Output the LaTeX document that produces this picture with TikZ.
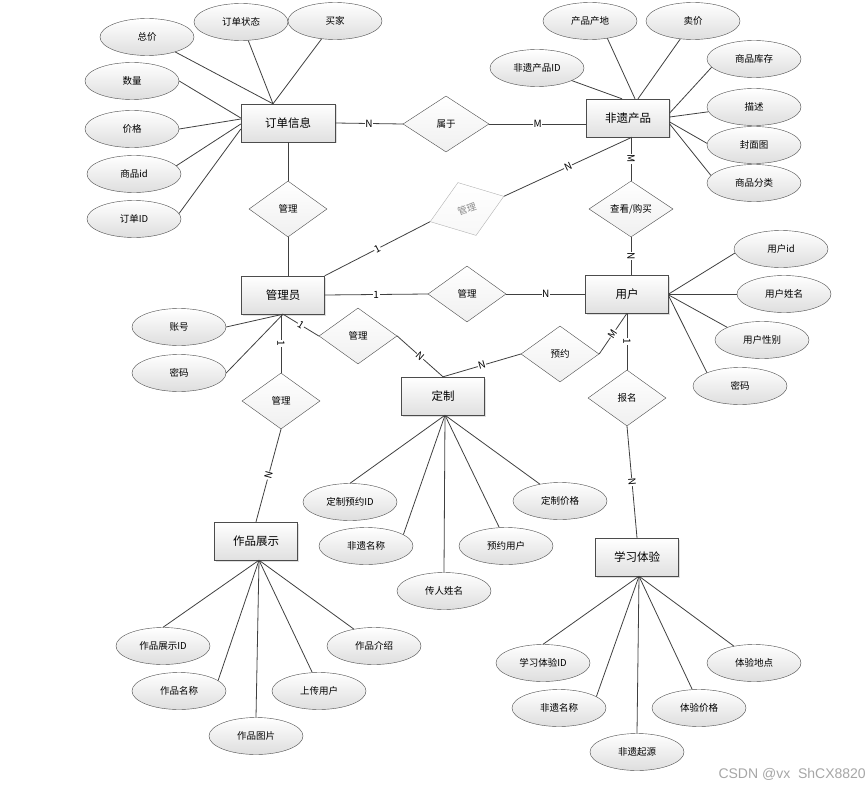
\documentclass[tikz,border=0pt]{standalone}
\usepackage{fontspec}
\setmainfont{Noto Sans CJK SC}
\newfontfamily\wmfont{Liberation Sans}
\usetikzlibrary{shapes.geometric,shadows}

\begin{document}
\begin{tikzpicture}[x=1pt,y=-1pt]
        \tikzstyle{entity}=[rectangle,draw=black!70,top color=white,bottom color=black!12,minimum width=83pt,minimum height=38pt,font=\fontsize{11.5}{13}\selectfont,drop shadow={opacity=0.25,shadow xshift=1.5pt,shadow yshift=-1.5pt}]
        \tikzstyle{attr}=[ellipse,draw=black!70,top color=white,bottom color=black!13,minimum width=94pt,minimum height=37pt,inner sep=0pt,font=\fontsize{9.5}{11}\selectfont]
        \tikzstyle{rel}=[diamond,draw=black!70,top color=white,bottom color=black!6,minimum width=78pt,minimum height=56pt,inner sep=0pt,font=\fontsize{9.5}{11}\selectfont]
        \tikzstyle{edge}=[draw=black!75,line width=0.8pt]
        \tikzstyle{card}=[fill=white,inner sep=0.6pt,font=\fontsize{10}{12}\selectfont]

        \useasboundingbox (0,0) rectangle (867,789);

        % entities
        \node [entity,minimum width=94pt] (ddxx) at (288,123) {订单信息};
        \node [entity] (fycp) at (628,118) {非遗产品};
        \node [entity] (gly) at (283,295) {管理员};
        \node [entity] (yh) at (627,294) {用户};
        \node [entity] (dz) at (443,396) {定制};
        \node [entity] (zpzs) at (256,541) {作品展示};
        \node [entity] (xxty) at (637,557) {学习体验};

        % relations
        \node [rel,minimum width=86pt] (sy) at (446,124) {属于};
        \node [rel] (gl1) at (288,209) {管理};
        \node [rel,draw=black!30,text=black!45,bottom color=black!3,rotate=19] (gl2) at (467,209) {管理};
        \node [rel,minimum width=84pt] (ckgm) at (631,209) {查看/购买};
        \node [rel] (gl3) at (467,294) {管理};
        \node [rel] (gl4) at (358,336) {管理};
        \node [rel] (yy) at (560,354) {预约};
        \node [rel] (gl5) at (281,401) {管理};
        \node [rel] (bm) at (627,398) {报名};

        % attributes
        \node [attr] (zj) at (147,37) {总价};
        \node [attr] (ddzt) at (241,22) {订单状态};
        \node [attr] (mj) at (335,21) {买家};
        \node [attr] (sl) at (132,81) {数量};
        \node [attr] (jg) at (132,129) {价格};
        \node [attr] (spid) at (134,174) {商品id};
        \node [attr] (ddid) at (134,219) {订单ID};

        \node [attr] (cpcd) at (590,21) {产品产地};
        \node [attr] (maij) at (693,21) {卖价};
        \node [attr] (cpid) at (537,68) {非遗产品ID};
        \node [attr] (spkc) at (754,59) {商品库存};
        \node [attr] (ms) at (754,107) {描述};
        \node [attr] (fmt) at (754,145) {封面图};
        \node [attr] (spfl) at (754,183) {商品分类};

        \node [attr] (yhid) at (781,249) {用户id};
        \node [attr] (yhxm) at (784,294) {用户姓名};
        \node [attr] (yhxb) at (762,340) {用户性别};
        \node [attr] (yhmm) at (740,386) {密码};

        \node [attr] (zh) at (179,327) {账号};
        \node [attr] (glmm) at (179,373) {密码};

        \node [attr] (dzid) at (350,502) {定制预约ID};
        \node [attr] (dzmc) at (366,546) {非遗名称};
        \node [attr] (crxm) at (444,591) {传人姓名};
        \node [attr] (yyyh) at (506,546) {预约用户};
        \node [attr] (dzjg) at (560,501) {定制价格};

        \node [attr] (zpid) at (163,646) {作品展示ID};
        \node [attr] (zpmc) at (179,691) {作品名称};
        \node [attr] (zptp) at (256,736) {作品图片};
        \node [attr] (scyh) at (319,691) {上传用户};
        \node [attr] (zpjs) at (374,646) {作品介绍};

        \node [attr] (tyid) at (543,663) {学习体验ID};
        \node [attr] (tymc) at (559,708) {非遗名称};
        \node [attr] (fyqy) at (637,752) {非遗起源};
        \node [attr] (tyjg) at (699,708) {体验价格};
        \node [attr] (tydd) at (754,663) {体验地点};

        % relation lines
        \path[edge] (ddxx.east) edge node[card]{N} (sy.west);
        \path[edge] (sy.east) edge node[card]{M} (sy.east -| fycp.west);
        \path[edge] (ddxx.south) edge (gl1.north);
        \path[edge] (gl1.south) edge (gl1.south |- gly.north);
        \path[edge] (gly.north east) edge node[card,sloped]{1} (gl2.west);
        \path[edge] (gl2.east) edge node[card,sloped]{N} ([xshift=4pt]fycp.south);
        \path[edge] (ckgm.north |- fycp.south) edge node[card,sloped]{M} (ckgm.north);
        \path[edge] (ckgm.south) edge node[card,sloped]{N} (ckgm.south |- yh.north);
        \path[edge] (gly.east) edge node[card]{1} (gl3.west);
        \path[edge] (gl3.east) edge node[card]{N} (yh.west);
        \path[edge] (gly.south) edge node[card,sloped]{1} (gl4.west);
        \path[edge] (gl4.east) edge node[card,sloped]{N} (dz.north);
        \path[edge] (dz.north) edge node[card,sloped]{N} (yy.west);
        \path[edge] (yy.east) edge node[card,sloped]{M} (yh.south);
        \path[edge] (gl5.north |- gly.south) edge node[card,sloped]{1} (gl5.north);
        \path[edge] (gl5.south) edge node[card,sloped]{N} (zpzs.north);
        \path[edge] (yh.south) edge node[card,sloped]{1} (bm.north);
        \path[edge] (bm.south) edge node[card,sloped]{N} (xxty.north);

        % attribute lines
        \path[edge] (zj) edge ([xshift=-15pt]ddxx.north);
        \path[edge] (ddzt) edge ([xshift=-15pt]ddxx.north);
        \path[edge] (mj) edge ([xshift=-15pt]ddxx.north);
        \path[edge] (sl.east) edge ([yshift=5pt]ddxx.west);
        \path[edge] (jg.east) edge ([yshift=4pt]ddxx.west);
        \path[edge] (spid.11) edge ([yshift=-1pt]ddxx.west);
        \path[edge] (ddid.7) edge ([yshift=-6pt]ddxx.west);

        \path[edge] (cpcd.-45) edge ([xshift=7pt]fycp.north);
        \path[edge] (maij) edge ([xshift=10pt]fycp.north);
        \path[edge] (cpid) edge ([xshift=-6pt]fycp.north);
        \path[edge] (spkc.191) edge ([yshift=5pt]fycp.east);
        \path[edge] (ms.186) edge ([yshift=1pt]fycp.east);
        \path[edge] (fmt.178) edge ([yshift=-4pt]fycp.east);
        \path[edge] (spfl.170) edge ([yshift=-6pt]fycp.east);

        \path[edge] (yhid.185) edge (yh.east);
        \path[edge] (yhxm.west) edge (yh.east);
        \path[edge] (yhxb.160) edge ([yshift=-1pt]yh.east);
        \path[edge] (yhmm.158) edge ([yshift=-2pt]yh.east);

        \path[edge] (zh.east) edge (gly.south);
        \path[edge] (glmm.east) edge (gly.south);

        \path[edge] (dzid.north) edge ([xshift=2pt]dz.south);
        \path[edge] (dzmc.17) edge ([xshift=2pt]dz.south);
        \path[edge] (crxm.north) edge ([xshift=2pt]dz.south);
        \path[edge] (yyyh.110) edge ([xshift=2pt]dz.south);
        \path[edge] (dzjg.140) edge ([xshift=2pt]dz.south);

        \path[edge] (zpid.north) edge ([xshift=3pt]zpzs.south);
        \path[edge] (zpmc.15) edge ([xshift=3pt]zpzs.south);
        \path[edge] (zptp.north) edge ([xshift=3pt]zpzs.south);
        \path[edge] (scyh.110) edge ([xshift=3pt]zpzs.south);
        \path[edge] (zpjs.140) edge ([xshift=3pt]zpzs.south);

        \path[edge] (tyid.north) edge ([xshift=2pt]xxty.south);
        \path[edge] (tymc.17) edge ([xshift=2pt]xxty.south);
        \path[edge] (fyqy.north) edge ([xshift=2pt]xxty.south);
        \path[edge] (tyjg.110) edge ([xshift=2pt]xxty.south);
        \path[edge] (tydd.140) edge ([xshift=2pt]xxty.south);

        % watermark
        \node [anchor=east,text=black!35,font=\wmfont\fontsize{14}{16}\selectfont,inner sep=0pt] (wm) at (866,774) {CSDN @vx\ \ ShCX8820};
\end{tikzpicture}
\end{document}
